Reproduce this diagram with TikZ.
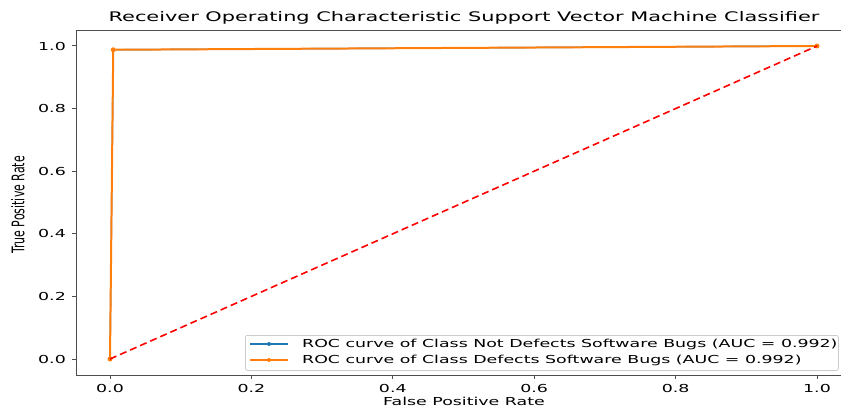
\documentclass[tikz,border=0pt]{standalone}
\usepackage{fontspec}
\setmainfont{DejaVu Sans}
\usepackage{graphicx}
\usetikzlibrary{positioning,calc}
\definecolor{tabblue}{HTML}{1F77B4}
\definecolor{taborange}{HTML}{FF7F0E}
\definecolor{spinegray}{HTML}{4D4D4D}
\newcommand{\wide}[1]{\scalebox{1.58}[1]{#1}}
\newcommand{\tall}[1]{\scalebox{1}[1.58]{#1}}

\begin{document}
\begin{tikzpicture}[
  x=1pt, y=1pt,
  lbl/.style={font=\fontsize{11}{13}\selectfont, inner sep=0pt},
  ttl/.style={font=\fontsize{13.2}{15}\selectfont, inner sep=0pt},
  spine/.style={spinegray, line width=1pt},
  roc/.style={line width=2pt, line join=round},
  dot/.style={circle, fill, inner sep=0pt, minimum size=5pt},
  diag/.style={red, line width=1.6pt, dash pattern=on 7pt off 4pt},
]
  \useasboundingbox (0,0) rectangle (841,408);
  \draw[spine] (841,377) -- (76,377) -- (76,33) -- (841,33);

  \begin{scope}[shift={(110,49)}, x=707pt, y=313pt]
    \foreach \v/\n in {0.0/0, 0.2/2, 0.4/4, 0.6/6, 0.8/8, 1.0/10} {
      \draw[spine] (\v,-0.0511) -- ++(0,-4pt);
      \node[lbl] (xt\n) at (\v,-0.0927) {\wide{\v}};
      \draw[spine] (-0.0481,\v) -- ++(-4pt,0);
      \node[lbl, anchor=east] (yt\n) at (-0.0622,\v) {\wide{\v}};
    }
    \node[dot, taborange] (p1) at (0,0) {};
    \node[dot, taborange] (p2) at (0.0046,0.988) {};
    \node[dot, taborange] (p3) at (1,1) {};
    \draw[roc, tabblue, line width=1.4pt] (p1.center) -- (p2.center) -- (p3.center);
    \draw[roc, taborange] (p1.center) -- (p2.center) -- (p3.center);
    \draw[diag] (p1.center) -- (p3.center);
  \end{scope}

  \node[ttl] (title) at (464,390) {\wide{Receiver Operating Characteristic Support Vector Machine Classifier}};
  \node[lbl, anchor=base] (xlab) at (464,3) {\wide{False Positive Rate}};
  \node[lbl, rotate=90] (ylab) at (18,203) {\tall{True Positive Rate}};

  \node[draw=black!20, fill=white, rounded corners=2pt, line width=0.8pt,
        minimum width=593pt, minimum height=35pt, anchor=north west] (legend) at (245,73) {};
  \coordinate (la) at (250,64);
  \coordinate (lb) at (288,64);
  \coordinate (lc) at (250,48);
  \coordinate (ld) at (288,48);
  \draw[roc, tabblue, line width=1.6pt] (la) -- (lb);
  \node[dot, tabblue, minimum size=4pt] (m1) at (269,64) {};
  \draw[roc, taborange, line width=1.6pt] (lc) -- (ld);
  \node[dot, taborange, minimum size=4pt] (m2) at (269,48) {};
  \node[lbl, anchor=west] (e1) at (302,64) {\wide{ROC curve of Class Not Defects Software Bugs (AUC = 0.992)}};
  \node[lbl, anchor=west] (e2) at (302,48) {\wide{ROC curve of Class Defects Software Bugs (AUC = 0.992)}};
\end{tikzpicture}
\end{document}
